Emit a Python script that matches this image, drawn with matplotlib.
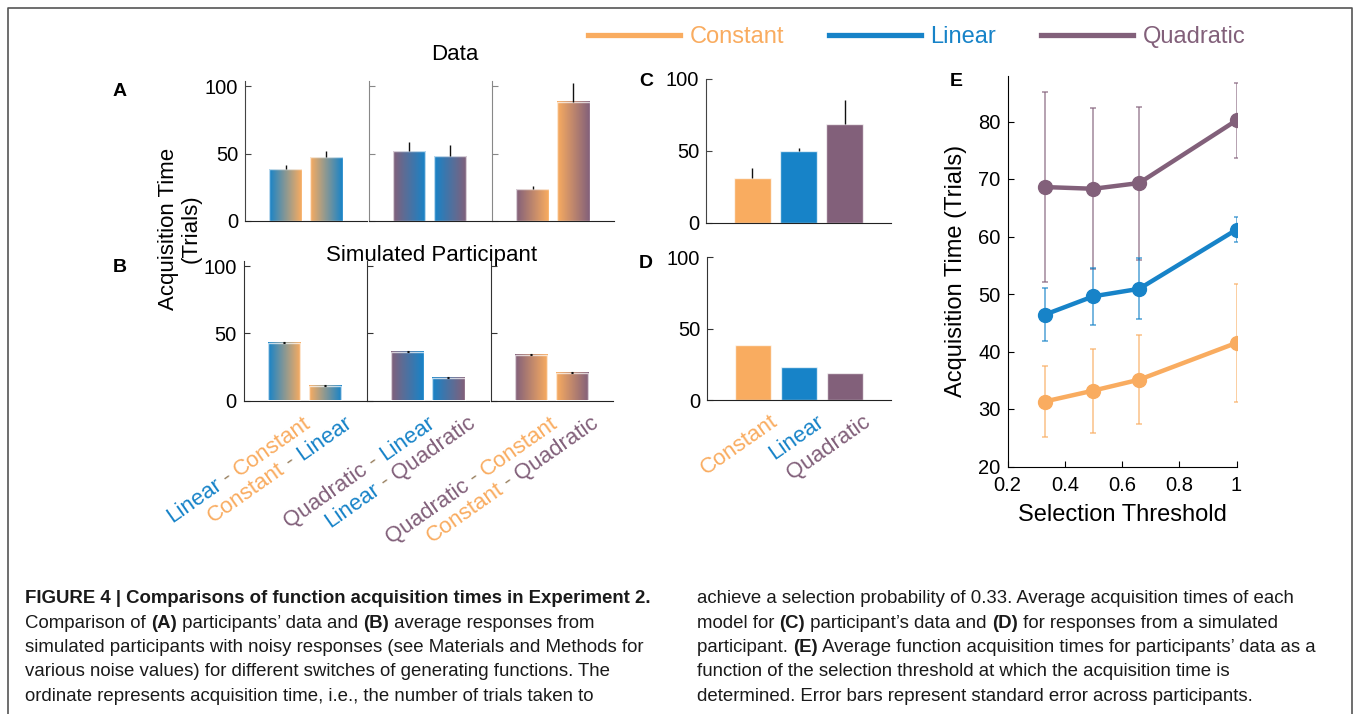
import numpy as np
import matplotlib
matplotlib.use('Agg')
import matplotlib.pyplot as plt
import matplotlib.transforms as mtransforms
from matplotlib.lines import Line2D
from matplotlib.colors import to_rgb, to_rgba

plt.rcParams['font.family'] = ['Liberation Sans', 'DejaVu Sans']

W, H = 1355, 714

# colours of the generating functions
func_colors = {'Constant': '#F9AC60', 'Linear': '#1783C8', 'Quadratic': '#82607A'}
dash_color = '#9A8262'

# panels A/B: switch from first to second generating function
switches = [('Linear', 'Constant'), ('Constant', 'Linear'),
            ('Quadratic', 'Linear'), ('Linear', 'Quadratic'),
            ('Quadratic', 'Constant'), ('Constant', 'Quadratic')]
data_means = [38.6, 47.3, 52.0, 48.0, 23.5, 88.6]
data_err = [3.0, 4.7, 6.5, 8.5, 2.7, 13.7]
sim_means = [43.2, 10.7, 36.2, 16.7, 34.2, 20.5]
sim_err = [0.6, 0.5, 0.6, 0.6, 0.5, 0.5]

# panels C/D
models = ['Constant', 'Linear', 'Quadratic']
model_means = [31.1, 50.0, 68.6]
model_err = [6.6, 1.7, 16.8]
sim_model_means = [38.4, 23.3, 18.6]

# panel E
thresholds = [0.33, 0.5, 0.66, 1.0]
const_acq = [31.3, 33.2, 35.1, 41.5]
const_err = [6.25, 7.3, 7.7, 10.3]
linear_acq = [46.4, 49.6, 50.9, 61.2]
linear_err = [4.65, 4.95, 5.3, 2.2]
quad_acq = [68.6, 68.3, 69.3, 80.2]
quad_err = [16.5, 14.0, 13.3, 6.5]

caption_left = [
    [('FIGURE 4 | Comparisons of function acquisition times in Experiment 2.', 'bold')],
    [('Comparison of ', 'normal'), ('(A)', 'bold'), (' participants\u2019 data and ', 'normal'),
     ('(B)', 'bold'), (' average responses from', 'normal')],
    [('simulated participants with noisy responses (see Materials and Methods for', 'normal')],
    [('various noise values) for different switches of generating functions. The', 'normal')],
    [('ordinate represents acquisition time, i.e., the number of trials taken to', 'normal')],
]
caption_right = [
    [('achieve a selection probability of 0.33. Average acquisition times of each', 'normal')],
    [('model for ', 'normal'), ('(C)', 'bold'), (' participant\u2019s data and ', 'normal'),
     ('(D)', 'bold'), (' for responses from a simulated', 'normal')],
    [('participant. ', 'normal'), ('(E)', 'bold'),
     (' Average function acquisition times for participants\u2019 data as a', 'normal')],
    [('function of the selection threshold at which the acquisition time is', 'normal')],
    [('determined. Error bars represent standard error across participants.', 'normal')],
]

fig = plt.figure(figsize=(W / 100, H / 100), dpi=100)
renderer = fig.canvas.get_renderer()
ident = mtransforms.IdentityTransform()


def add_px_axes(left, top, right, bottom):
    return fig.add_axes([left / W, 1 - bottom / H, (right - left) / W, (bottom - top) / H])


def text_width(s, size, weight='normal'):
    t = fig.text(0, 0, s + '|', fontsize=size, fontweight=weight)
    full = t.get_window_extent(renderer).width
    t.set_text('|')
    bar_w = t.get_window_extent(renderer).width
    t.remove()
    return full - bar_w


def draw_runs(x, y, runs, size, angle=0.0, end_at=False):
    # runs of (text, colour, weight) laid along one baseline, x/y in pixels
    widths = [text_width(s, size, wt) for s, _, wt in runs]
    ux, uy = np.cos(np.radians(angle)), np.sin(np.radians(angle))
    if end_at:
        x -= sum(widths) * ux
        y -= sum(widths) * uy
    for (s, c, wt), w in zip(runs, widths):
        fig.text(x, y, s, color=c, fontsize=size, fontweight=wt, rotation=angle,
                 rotation_mode='anchor', ha='left', va='baseline', transform=ident)
        x += w * ux
        y += w * uy


def style_bar_axes(ax, show_labels, spine_color, ymax):
    for side in ['top', 'right']:
        ax.spines[side].set_visible(False)
    ax.spines['left'].set_color(spine_color)
    ax.spines['bottom'].set_color('#222222')
    ax.set_xticks([])
    ax.set_yticks([0, 50, 100])
    ax.set_ylim(0, ymax)
    ax.tick_params(axis='y', direction='in', length=4, labelsize=14.5, pad=5,
                   color=spine_color, labelleft=show_labels)


def gradient_pair_axes(ax, means, errs, pairs, cap):
    xs = np.arange(1, len(means) + 1)
    bars = ax.bar(xs, means, width=0.8, facecolor='none',
                  edgecolor=(1, 1, 1, 0.7), linewidth=1, zorder=3)
    t = np.linspace(0, 1, 64)[None, :, None]
    for patch, (a, b) in zip(bars.patches, pairs):
        ca = np.array(to_rgb(func_colors[a]))
        cb = np.array(to_rgb(func_colors[b]))
        grad = ca * (1 - t) + cb * t
        x0 = patch.get_x()
        ax.imshow(grad, extent=(x0, x0 + patch.get_width(), 0, patch.get_height()),
                  aspect='auto', interpolation='bilinear', zorder=2)
    ax.errorbar(xs, means, yerr=[np.zeros(len(errs)), errs], fmt='none',
                ecolor='#111111', elinewidth=1, capsize=cap, capthick=0.8, zorder=4)
    ax.set_xlim(0, 3)


# ---- panels A and B ----
sub_lefts = [245, 368.5, 492]
sub_w = 122
axes_a, axes_b = [], []
for k in range(3):
    ax = add_px_axes(sub_lefts[k], 81, sub_lefts[k] + sub_w, 221)
    gradient_pair_axes(ax, data_means[2 * k:2 * k + 2], data_err[2 * k:2 * k + 2],
                       switches[2 * k:2 * k + 2], cap=0)
    style_bar_axes(ax, k == 0, '#444444' if k == 0 else '#888888', 104)
    axes_a.append(ax)

    ax = add_px_axes(sub_lefts[k] - 1.5, 261, sub_lefts[k] - 1.5 + sub_w, 400.5)
    gradient_pair_axes(ax, sim_means[2 * k:2 * k + 2], sim_err[2 * k:2 * k + 2],
                       switches[2 * k:2 * k + 2], cap=1)
    style_bar_axes(ax, k == 0, '#333333', 104)
    axes_b.append(ax)

label_angle = 35
for k, ax in enumerate(axes_b):
    for j in range(2):
        first, second = switches[2 * k + j]
        px, py = ax.transData.transform((j + 1, 0))
        runs = [(first, func_colors[first], 'normal'),
                (' - ', dash_color, 'normal'),
                (second, func_colors[second], 'normal')]
        draw_runs(px + 28, py - 25, runs, 16, angle=label_angle, end_at=True)

# ---- panels C and D ----
ax_c = add_px_axes(706, 78.5, 891, 222.5)
xs = np.arange(1, 4)
ax_c.bar(xs, model_means, width=0.8, color=[func_colors[m] for m in models],
         edgecolor=(1, 1, 1, 0.7), linewidth=1, zorder=2)
ax_c.errorbar(xs, model_means, yerr=[np.zeros(3), model_err], fmt='none',
              ecolor='#111111', elinewidth=1, capsize=0, zorder=3)
ax_c.set_xlim(0, 4)
style_bar_axes(ax_c, True, '#444444', 100)

ax_d = add_px_axes(707, 257, 891, 400)
ax_d.bar(xs, sim_model_means, width=0.8, color=[func_colors[m] for m in models],
         edgecolor=(1, 1, 1, 0.7), linewidth=1, zorder=2)
ax_d.set_xlim(0, 4)
style_bar_axes(ax_d, True, '#333333', 100)
for j, m in enumerate(models):
    px, py = ax_d.transData.transform((j + 1, 0))
    draw_runs(px + 26, py - 24, [(m, func_colors[m], 'normal')], 16,
              angle=label_angle, end_at=True)

# ---- panel E ----
ax_e = add_px_axes(1007.5, 75.5, 1236.5, 466.5)
for acq, err, name in [(quad_acq, quad_err, 'Quadratic'),
                       (linear_acq, linear_err, 'Linear'),
                       (const_acq, const_err, 'Constant')]:
    c = func_colors[name]
    ax_e.errorbar(thresholds, acq, yerr=err, color=c, lw=3.2, marker='o', ms=10,
                  ecolor=to_rgba(c, 0.75), elinewidth=1.1, capsize=2.5, capthick=1.1)
ax_e.set_xlim(0.2, 1)
ax_e.set_ylim(20, 88)
ax_e.set_xticks([0.2, 0.4, 0.6, 0.8, 1.0])
ax_e.set_xticklabels(['0.2', '0.4', '0.6', '0.8', '1'])
ax_e.set_yticks(range(20, 81, 10))
for side in ['top', 'right']:
    ax_e.spines[side].set_visible(False)
ax_e.tick_params(direction='in', length=4, labelsize=14.5)
ax_e.tick_params(axis='x', pad=7)
ax_e.tick_params(axis='y', pad=5)
ax_e.set_xlabel('Selection Threshold', fontsize=17, labelpad=6)
ax_e.set_ylabel('Acquisition Time (Trials)', fontsize=17, labelpad=8)

# ---- shared labels and titles ----
fig.text(180 / W, 1 - 229 / H, 'Acquisition Time\n(Trials)', rotation=90,
         fontsize=16, ha='center', va='center', linespacing=1.1)
fig.text(455 / W, 1 - 54 / H, 'Data', fontsize=16, ha='center', va='center')
fig.text(432 / W, 1 - 255 / H, 'Simulated Participant', fontsize=16,
         ha='center', va='center')
for letter, x, y in [('A', 120, 92), ('B', 120, 268), ('C', 646, 81),
                     ('D', 646, 263), ('E', 956, 82)]:
    fig.text(x / W, 1 - y / H, letter, fontsize=14, fontweight='bold',
             ha='center', va='center')

handles = [Line2D([], [], color=func_colors[m], lw=3.8) for m in models]
leg = fig.legend(handles, models, ncol=3, loc='center left',
                 bbox_to_anchor=(588 / W, 1 - 37 / H), frameon=False, fontsize=17,
                 handlelength=3.9, handletextpad=0.4, columnspacing=1.9,
                 borderpad=0, borderaxespad=0)
for txt, m in zip(leg.get_texts(), models):
    txt.set_color(func_colors[m])

# ---- caption ----
for col_x, lines in [(25, caption_left), (697, caption_right)]:
    for i, line in enumerate(lines):
        runs = [(s, '#1a1a1a', wt) for s, wt in line]
        draw_runs(col_x, H - (603 + 24.5 * i), runs, 13.4)

# frame around the figure
fig.add_artist(Line2D([8 / W, 8 / W, 1352 / W, 1352 / W], [0, 1 - 8 / H, 1 - 8 / H, 0],
                      transform=fig.transFigure, color='#555555', lw=1.2))

fig.savefig('out.png', dpi=100)
